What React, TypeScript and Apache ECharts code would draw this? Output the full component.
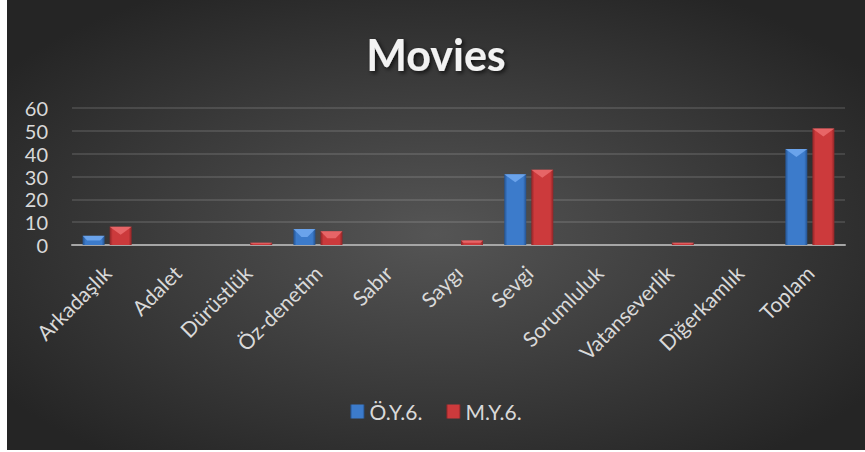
import React, { useEffect, useRef } from "react";
import * as echarts from "echarts";

const categories = ["Arkadaşlık", "Adalet", "Dürüstlük", "Öz-denetim", "Sabır", "Saygı", "Sevgi", "Sorumluluk", "Vatanseverlik", "Diğerkamlık", "Toplam"];
const seriesNames = ["Ö.Y.6.", "M.Y.6."];
const oy6 = [4, 0, 0, 7, 0, 0, 31, 0, 0, 0, 42];
const my6 = [8, 0, 1, 6, 0, 2, 33, 0, 1, 0, 51];
const titleText = "Movies";

const FONT = "Lato, 'Open Sans', sans-serif";

function bodyGradient(dark: string, base: string) {
  return {
    type: "linear", x: 0, y: 0, x2: 1, y2: 0,
    colorStops: [
      { offset: 0, color: dark },
      { offset: 0.14, color: base },
      { offset: 0.86, color: base },
      { offset: 1, color: dark },
    ],
  };
}

export default function App() {
  const ref = useRef<HTMLDivElement>(null);
  useEffect(() => {
    if (!ref.current) return;
    const chart = echarts.init(ref.current, undefined, { renderer: "svg" });
    const barW = 22;
    const off = 13.5;
    const makeTop = (values: number[], idx: number, light: string) => ({
      type: "custom",
      silent: true,
      z: 5,
      data: values.map((v, i) => [i, v]),
      encode: { x: 0, y: 1 },
      renderItem: (params: any, api: any) => {
        const cat = api.value(0);
        const val = api.value(1);
        if (!(val > 0)) return null;
        const top = api.coord([cat, val]);
        const base = api.coord([cat, 0]);
        const x = top[0] + (idx === 0 ? -off : off);
        const h = base[1] - top[1];
        const th = Math.min(8, h / 2);
        const hw = barW / 2;
        const pts =
          h / 2 >= 8
            ? [[x - hw, top[1]], [x + hw, top[1]], [x, top[1] + th]]
            : [[x - hw, top[1]], [x + hw, top[1]], [x + hw - th, top[1] + th], [x - hw + th, top[1] + th]];
        return {
          type: "polygon",
          shape: { points: pts },
          style: { fill: light, opacity: 0.75 },
        };
      },
    });
    chart.setOption({
      animation: false,
      backgroundColor: "transparent",
      graphic: [
        {
          type: "rect",
          z: -10,
          silent: true,
          shape: { x: 0, y: 0, width: 858, height: 450 },
          style: {
            fill: {
              type: "radial", x: 0.5, y: 0.52, r: 0.62,
              colorStops: [
                { offset: 0, color: "#555555" },
                { offset: 1, color: "#252525" },
              ],
            },
          },
        },
      ],
      title: {
        text: titleText,
        left: "center",
        top: 24,
        textStyle: {
          color: "#f2f2f2",
          fontFamily: FONT,
          fontWeight: "bold",
          fontSize: 43,
          lineHeight: 50,
          textShadowColor: "rgba(0,0,0,0.7)",
          textShadowBlur: 4,
          textShadowOffsetX: 2,
          textShadowOffsetY: 2,
        },
      },
      legend: {
        data: seriesNames,
        bottom: 23,
        left: "center",
        itemWidth: 14,
        itemHeight: 14,
        itemGap: 24,
        icon: "rect",
        textStyle: { color: "#d9d9d9", fontSize: 21, fontFamily: FONT },
      },
      grid: { left: 65, right: 20, top: 108, bottom: 205, containLabel: false },
      xAxis: {
        type: "category",
        data: categories,
        axisTick: { show: false },
        axisLine: { lineStyle: { color: "#a6a6a6", width: 2 } },
        axisLabel: {
          rotate: 45,
          color: "#d9d9d9",
          fontSize: 21,
          fontFamily: FONT,
          margin: 24,
          interval: 0,
        },
      },
      yAxis: {
        type: "value",
        min: 0,
        max: 60,
        interval: 10,
        axisLine: { show: false },
        axisTick: { show: false },
        splitLine: { lineStyle: { color: "rgba(255,255,255,0.16)", width: 1.5 } },
        axisLabel: { color: "#d9d9d9", fontSize: 20, fontFamily: FONT, margin: 24 },
      },
      series: [
        {
          name: seriesNames[0],
          type: "bar",
          data: oy6,
          barWidth: barW,
          barGap: "23%",
          itemStyle: { color: bodyGradient("#24528f", "#3c7bcb") },
        },
        {
          name: seriesNames[1],
          type: "bar",
          data: my6,
          barWidth: barW,
          barGap: "23%",
          itemStyle: { color: bodyGradient("#8f2426", "#cc3a3c") },
        },
        makeTop(oy6, 0, "#79b0f5"),
        makeTop(my6, 1, "#f07476"),
      ],
    });
    return () => chart.dispose();
  }, []);
  return (
    <div style={{ position: "fixed", left: 0, top: 0, width: 865, height: 452, background: "#ffffff" }}>
      <div ref={ref} style={{ position: "absolute", left: 7, top: 0, width: 858, height: 450 }} />
    </div>
  );
}
